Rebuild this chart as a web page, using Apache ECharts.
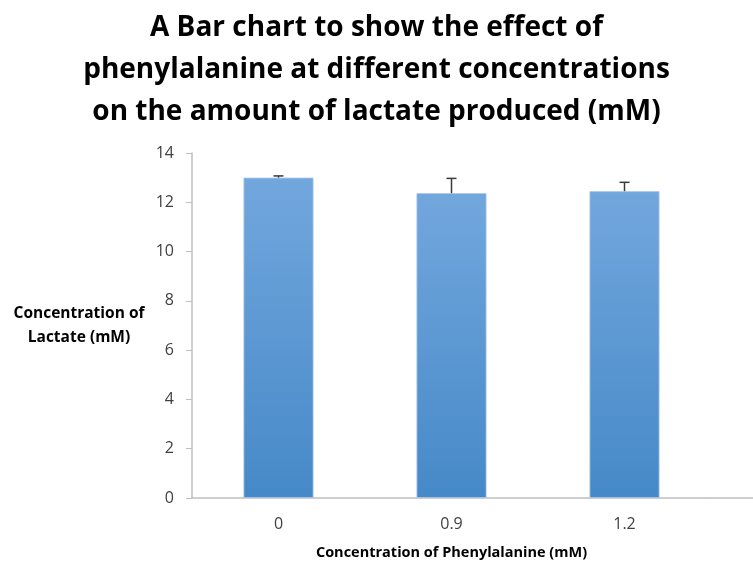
<!DOCTYPE html>
<html>
<head>
<meta charset="utf-8">
<script src="https://cdn.jsdelivr.net/npm/echarts@6/dist/echarts.min.js"></script>
<style>
  html, body { margin: 0; padding: 0; background: #fff; }
  #main { width: 753px; height: 563px; }
</style>
</head>
<body>
<div id="main"></div>
<script>
// 数据
var categories = ['0', '0.9', '1.2'];
var lactate = [13.0, 12.37, 12.45];
var errorUp = [0.07, 0.6, 0.36];
var yTicks = [0, 2, 4, 6, 8, 10, 12, 14];

var myChart = echarts.init(document.getElementById('main'));

var font = '"Open Sans", "DejaVu Sans", sans-serif';

myChart.setOption({
    animation: false,
    title: {
        text: 'A Bar chart to show the effect of\nphenylalanine at different concentrations\non the amount of lactate produced (mM)',
        left: 'center',
        top: 2,
        textStyle: {
            fontFamily: font,
            fontSize: 28,
            fontWeight: 'bold',
            color: '#000',
            lineHeight: 42
        }
    },
    grid: { left: 192, right: 42, top: 153, bottom: 65, outerBoundsMode: 'none' },
    xAxis: {
        type: 'category',
        data: categories,
        name: 'Concentration of Phenylalanine (mM)',
        nameLocation: 'middle',
        nameGap: 47,
        nameTextStyle: { fontFamily: font, fontSize: 14.5, fontWeight: 'bold', color: '#000' },
        axisLine: { lineStyle: { color: '#bfbfbf', width: 1.5 } },
        axisTick: { length: 6, lineStyle: { color: '#bfbfbf' } },
        axisLabel: { fontFamily: font, fontSize: 16, color: '#404040', margin: 18 }
    },
    yAxis: {
        type: 'value',
        min: yTicks[0],
        max: yTicks[yTicks.length - 1],
        interval: 2,
        name: 'Concentration of\nLactate (mM)',
        nameLocation: 'middle',
        nameRotate: 0,
        nameGap: 113,
        nameTextStyle: { fontFamily: font, fontSize: 15.5, fontWeight: 'bold', color: '#000', lineHeight: 24, align: 'center' },
        axisLine: { show: true, lineStyle: { color: '#bfbfbf', width: 1.5 } },
        axisTick: { show: true, length: 6, lineStyle: { color: '#bfbfbf' } },
        splitLine: { show: false },
        axisLabel: { fontFamily: font, fontSize: 16, color: '#404040', margin: 18 }
    },
    series: [{
        type: 'bar',
        data: lactate,
        barWidth: 70,
        itemStyle: {
            color: new echarts.graphic.LinearGradient(0, 0, 0, 1, [
                { offset: 0, color: '#72a7dd' },
                { offset: 1, color: '#4689c8' }
            ]),
            borderColor: '#a9c8ea',
            borderWidth: 0.8
        }
    }, {
        // 误差线
        type: 'custom',
        data: lactate.map(function (v, i) { return [i, v, v + errorUp[i]]; }),
        renderItem: function (params, api) {
            var lo = api.coord([api.value(0), api.value(1)]);
            var hi = api.coord([api.value(0), api.value(2)]);
            var style = { stroke: '#3a3a3a', lineWidth: 1.5 };
            return {
                type: 'group',
                children: [
                    { type: 'line', shape: { x1: lo[0], y1: lo[1], x2: hi[0], y2: hi[1] }, style: style },
                    { type: 'line', shape: { x1: hi[0] - 5, y1: hi[1], x2: hi[0] + 5, y2: hi[1] }, style: style }
                ]
            };
        },
        z: 5
    }],
    graphic: [{
        // 横轴延伸到右边缘
        type: 'line',
        shape: { x1: 711, y1: 498, x2: 753, y2: 498 },
        style: { stroke: '#bfbfbf', lineWidth: 1.5 }
    }]
});
</script>
</body>
</html>
